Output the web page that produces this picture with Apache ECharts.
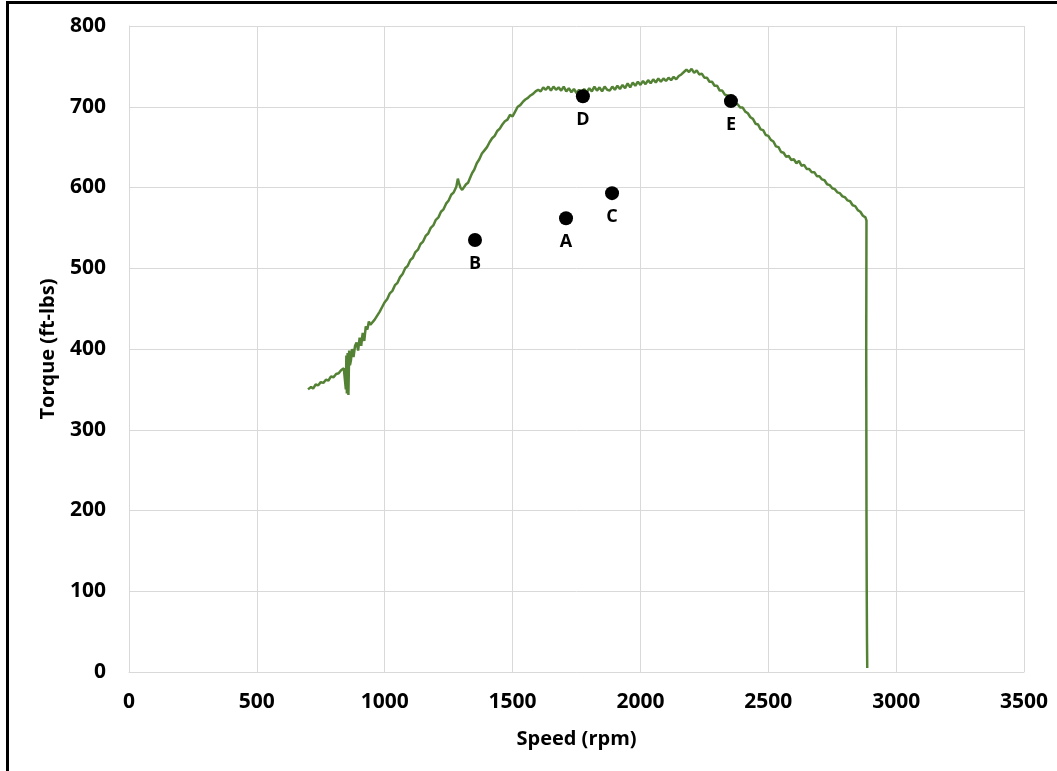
<!DOCTYPE html>
<html>
<head>
<meta charset="utf-8">
<title>Torque vs Speed</title>
<script src="https://cdn.jsdelivr.net/npm/echarts@6/dist/echarts.min.js"></script>
<style>
    html, body { margin: 0; padding: 0; background: #fff; }
    #main { position: absolute; left: 0; top: 0; width: 1057px; height: 771px; }
    #frame {
        position: absolute; left: 6px; top: 1px; right: 0; bottom: 0;
        border-top: 3px solid #000; border-left: 3px solid #000;
        pointer-events: none;
    }
</style>
</head>
<body>
<div id="main"></div>
<div id="frame"></div>
<script>
// torque curve (rpm, ft-lbs)
var curveSpeed = [
    700, 712, 720, 730, 740, 750, 760, 770, 780, 790, 800, 810, 820, 830, 840,
    846, 848, 850, 852, 855, 858, 861, 864, 868, 872, 878, 884, 890, 896, 902,
    908, 914, 920, 926, 932, 938, 944, 950, 960, 970, 980, 990, 1000, 1010, 1020,
    1030, 1040, 1050, 1060, 1070, 1080, 1090, 1100, 1110, 1120, 1130, 1140, 1150, 1160, 1170,
    1180, 1190, 1200, 1210, 1220, 1230, 1240, 1250, 1260, 1270, 1280, 1286, 1290, 1296, 1303,
    1310, 1318, 1326, 1334, 1342, 1350, 1360, 1370, 1380, 1390, 1400, 1410, 1420, 1430, 1440,
    1450, 1460, 1470, 1480, 1490, 1500, 1510, 1520, 1530, 1540, 1550, 1560, 1570, 1580, 1590,
    1600, 1610, 1620, 1630, 1640, 1650, 1660, 1670, 1680, 1690, 1700, 1710, 1720, 1730, 1740,
    1750, 1760, 1770, 1780, 1790, 1800, 1810, 1820, 1830, 1840, 1850, 1860, 1870, 1880, 1890,
    1900, 1910, 1920, 1930, 1940, 1950, 1960, 1970, 1980, 1990, 2000, 2010, 2020, 2030, 2040,
    2050, 2060, 2070, 2080, 2090, 2100, 2110, 2120, 2130, 2140, 2150, 2160, 2170, 2180, 2190,
    2200, 2210, 2220, 2230, 2240, 2250, 2260, 2270, 2280, 2290, 2300, 2310, 2320, 2330, 2340,
    2350, 2360, 2370, 2380, 2390, 2400, 2410, 2420, 2430, 2440, 2450, 2460, 2470, 2480, 2490,
    2500, 2510, 2520, 2530, 2540, 2550, 2560, 2570, 2580, 2590, 2600, 2610, 2620, 2630, 2640,
    2650, 2660, 2670, 2680, 2690, 2700, 2710, 2720, 2730, 2740, 2750, 2760, 2770, 2780, 2790,
    2800, 2810, 2820, 2830, 2840, 2850, 2860, 2870, 2880, 2884, 2883, 2884, 2885, 2886, 2887
];
var curveTorque = [
    350, 353, 351, 356, 355, 359, 358, 362, 361, 366, 365, 369, 370, 374, 376,
    378, 350, 392, 345, 395, 343, 398, 380, 386, 400, 390, 404, 408, 398, 414,
    404, 420, 410, 428, 424, 434, 430, 432, 436, 441, 446, 452, 458, 462, 469,
    472, 479, 482, 489, 493, 500, 503, 510, 513, 520, 523, 530, 533, 540, 543,
    550, 553, 560, 563, 570, 573, 580, 584, 591, 594, 601, 611, 606, 600, 597,
    599, 604, 606, 612, 618, 622, 630, 635, 642, 646, 650, 656, 661, 664, 670,
    673, 678, 682, 684, 690, 688, 694, 700, 702, 706, 709, 711, 714, 716, 719,
    721, 719, 724, 721, 725, 720, 725, 721, 724, 720, 725, 719, 723, 718, 722,
    717, 721, 717, 722, 718, 723, 719, 725, 720, 724, 719, 725, 721, 720, 725,
    721, 726, 722, 727, 723, 729, 724, 730, 726, 731, 727, 732, 728, 733, 729,
    734, 730, 735, 731, 735, 732, 736, 733, 737, 734, 738, 740, 743, 746, 743,
    747, 742, 745, 740, 741, 736, 736, 731, 731, 726, 726, 720, 720, 715, 714,
    709, 709, 704, 703, 699, 699, 694, 692, 687, 685, 679, 678, 672, 671, 665,
    664, 659, 657, 651, 650, 644, 643, 638, 639, 634, 635, 630, 633, 627, 628,
    623, 623, 619, 619, 614, 614, 610, 609, 604, 603, 599, 598, 594, 593, 589,
    588, 584, 583, 578, 577, 572, 570, 565, 563, 559, 400, 200, 100, 40, 5
];

// marked operating points
var pointNames = ['B', 'A', 'C', 'D', 'E'];
var pointSpeed = [1353, 1709, 1889, 1775, 2354];
var pointTorque = [535, 562, 593, 713, 707];

var xTicks = { min: 0, max: 3500, interval: 500 };
var yTicks = { min: 0, max: 800, interval: 100 };

var fontName = '"Open Sans", "Liberation Sans", sans-serif';

function load_chart() {
    var dom = document.getElementById('main');
    var myChart = echarts.init(dom, null, { renderer: 'canvas' });

    var curve = curveSpeed.map(function (s, i) { return [s, curveTorque[i]]; });
    var points = pointSpeed.map(function (s, i) {
        return { name: pointNames[i], value: [s, pointTorque[i]] };
    });

    var option = {
        animation: false,
        textStyle: { fontFamily: fontName },
        grid: { left: 129, right: 33, top: 26, bottom: 99 },
        xAxis: {
            type: 'value',
            min: xTicks.min, max: xTicks.max, interval: xTicks.interval,
            name: 'Speed (rpm)',
            nameLocation: 'middle',
            nameGap: 57,
            nameTextStyle: { fontSize: 20, fontWeight: 'bold', color: '#000', fontFamily: fontName },
            axisLine: { show: true, lineStyle: { color: '#d9d9d9', width: 1 } },
            axisTick: { show: false },
            axisLabel: {
                fontSize: 21, fontWeight: 'bold', color: '#000', margin: 20, fontFamily: fontName,
                formatter: function (v) { return String(v); }
            },
            splitLine: { show: true, lineStyle: { color: '#d9d9d9', width: 1 } }
        },
        yAxis: {
            type: 'value',
            min: yTicks.min, max: yTicks.max, interval: yTicks.interval,
            name: 'Torque (ft-lbs)',
            nameLocation: 'middle',
            nameGap: 71,
            nameTextStyle: { fontSize: 20, fontWeight: 'bold', color: '#000', fontFamily: fontName },
            axisLine: { show: true, lineStyle: { color: '#d9d9d9', width: 1 } },
            axisTick: { show: false },
            axisLabel: { fontSize: 21, fontWeight: 'bold', color: '#000', margin: 23, fontFamily: fontName },
            splitLine: { show: true, lineStyle: { color: '#d9d9d9', width: 1 } }
        },
        series: [
            {
                name: 'Torque',
                type: 'line',
                data: curve,
                showSymbol: false,
                symbol: 'none',
                lineStyle: { color: '#548235', width: 2.5 },
                z: 2
            },
            {
                name: 'Points',
                type: 'scatter',
                data: points,
                symbol: 'circle',
                symbolSize: 14,
                itemStyle: { color: '#000', opacity: 1 },
                label: {
                    show: true,
                    position: 'bottom',
                    distance: 8,
                    formatter: '{b}',
                    color: '#000',
                    fontSize: 18,
                    fontWeight: 'bold',
                    fontFamily: fontName
                },
                z: 3
            }
        ]
    };

    myChart.setOption(option);
    window.addEventListener('resize', myChart.resize);
}

load_chart();
</script>
</body>
</html>
